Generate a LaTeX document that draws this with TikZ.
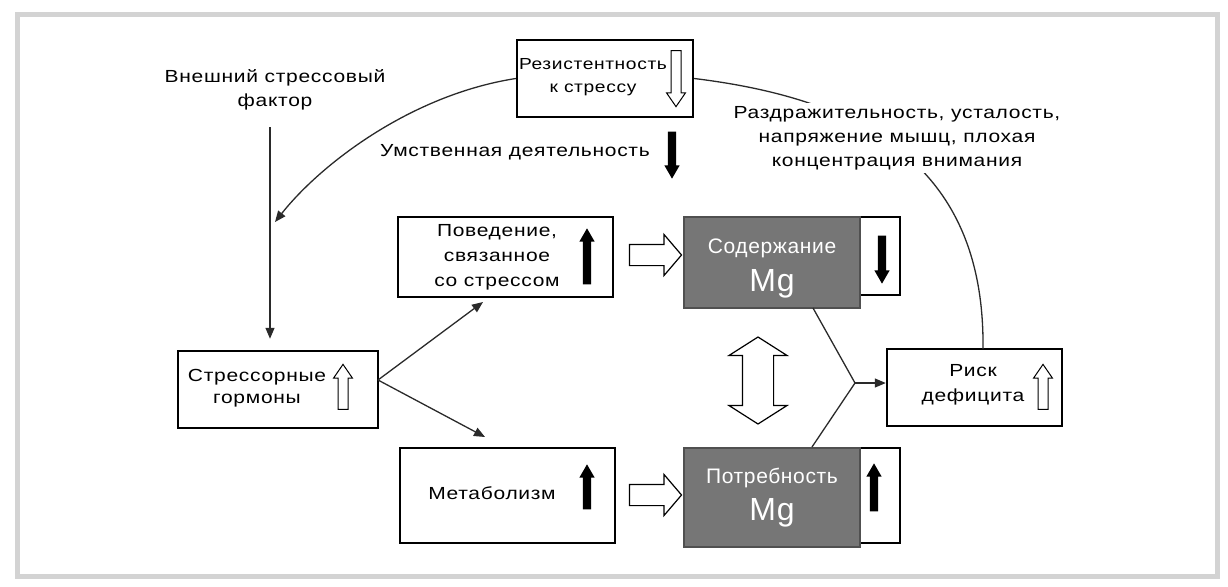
\documentclass[tikz,border=0pt]{standalone}
\usepackage{fontspec}
\setmainfont{Liberation Sans}[FakeStretch=1.2,LetterSpace=4]
\newfontfamily\mgfont{Liberation Sans}[LetterSpace=3]
\usetikzlibrary{shapes.arrows,arrows.meta}
\definecolor{mggray}{HTML}{767676}
\definecolor{mgborder}{HTML}{505050}
\definecolor{framegray}{HTML}{D3D3D3}
\definecolor{linkgray}{HTML}{2A2A2A}
\tikzset{
 box/.style={draw=black, line width=2.4pt, fill=white, inner sep=0pt},
 thinbox/.style={draw=black, line width=1.8pt, fill=white, inner sep=0pt},
 mgbox/.style={draw=mgborder, line width=1.5pt, fill=mggray, inner sep=0pt},
 txt/.style={align=center, inner sep=1pt, font=\fontsize{17.5}{24}\selectfont},
 mgtxt/.style={text=white, inner sep=0pt, font=\mgfont\fontsize{21}{24}\selectfont},
 mgbig/.style={text=white, inner sep=0pt, font=\mgfont\fontsize{32}{34}\selectfont},
 solidarrow/.style={single arrow, fill=black, draw=none, inner sep=4pt, outer sep=0pt,
   single arrow head extend=3.5pt, single arrow tip angle=60, minimum width=15pt},
 hollowup/.style={single arrow, draw=black, fill=white, line width=1pt, inner sep=4.5pt, outer sep=0pt,
   single arrow head extend=4.5pt, single arrow tip angle=69, minimum width=18pt},
 hollowright/.style={single arrow, draw=black, fill=white, line width=1.2pt, inner sep=10pt, outer sep=0pt,
   single arrow head extend=10pt, single arrow tip angle=99, minimum width=40pt, minimum height=52pt},
 link/.style={draw=linkgray, line width=1.3pt},
 tipped/.style={-{Triangle[length=11pt,width=9pt]}},
}
\begin{document}
\begin{tikzpicture}[x=1pt,y=-1pt]
\useasboundingbox (0,0) rectangle (1228,586);
\draw[framegray, line width=5pt] (17.5,14.5) rectangle (1217.5,576.5);

% boxes
\node[box, minimum width=176pt, minimum height=77pt] (res) at (605,78.5) {};
\node[box, minimum width=215pt, minimum height=80pt] (beh) at (505.5,257) {};
\node[box, minimum width=200pt, minimum height=77pt] (stress) at (278,389.5) {};
\node[box, minimum width=215pt, minimum height=95pt] (met) at (507.5,495.5) {};
\node[box, minimum width=175pt, minimum height=77pt] (risk) at (974.5,387.5) {};
\node[thinbox, minimum width=216pt, minimum height=78pt] (contw) at (792,256) {};
\node[mgbox, minimum width=176pt, minimum height=91pt] (contg) at (772,262.5) {};
\node[thinbox, minimum width=216pt, minimum height=95pt] (needw) at (792,495.5) {};
\node[mgbox, minimum width=176pt, minimum height=99pt] (needg) at (772,497.5) {};

% box texts
\node[txt, font=\fontsize{16}{23}\selectfont] (restxt) at (593,77) {Резистентность\\к стрессу};
\node[txt, font=\fontsize{17.5}{25}\selectfont] (behtxt) at (497,257) {Поведение,\\связанное\\со стрессом};
\node[txt, font=\fontsize{17.5}{22}\selectfont] (stresstxt) at (257,388) {Стрессорные\\гормоны};
\node[txt] (mettxt) at (492,493) {Метаболизм};
\node[txt, font=\fontsize{17.5}{25}\selectfont] (risktxt) at (973,385) {Риск\\дефицита};
\node[mgtxt] (conttxt) at (772,248) {Содержание};
\node[mgbig] (contmg) at (772,284) {Mg};
\node[mgtxt] (needtxt) at (772,478) {Потребность};
\node[mgbig] (needmg) at (772,513) {Mg};

% small arrows inside boxes
\node[hollowup, minimum height=56pt, shape border rotate=270] (resdown) at (676,75) {};
\node[solidarrow, minimum height=56pt, shape border rotate=90] (behup) at (587,260) {};
\node[solidarrow, minimum height=47pt, shape border rotate=270] (mentdown) at (672,151.5) {};
\node[solidarrow, minimum height=48pt, shape border rotate=270] (contdown) at (882,256) {};
\node[solidarrow, minimum height=48pt, shape border rotate=90] (needup) at (874,491) {};
\node[solidarrow, minimum height=45pt, shape border rotate=90] (metup) at (587,490.5) {};
\node[hollowup, minimum height=45pt, shape border rotate=90] (stressup) at (343,390.5) {};
\node[hollowup, minimum height=45pt, shape border rotate=90] (riskup) at (1043,390.5) {};

% big hollow arrows
\node[hollowright] (r1) at (651,255) {};
\node[hollowright] (r2) at (651,495) {};
\node[double arrow, draw=black, fill=white, line width=1.2pt, inner sep=15pt, outer sep=0pt,
  double arrow head extend=13.5pt, double arrow tip angle=115, minimum width=57pt,
  minimum height=87pt, shape border rotate=90] (dbl) at (758,380.5) {};

% free texts
\node[txt] (ext) at (275,90) {Внешний стрессовый\\фактор};
\node[txt] (mental) at (515,152) {Умственная деятельность};

% connectors
\coordinate (vtop) at (270,127);
\coordinate (ctip) at (275,222);
\coordinate (rtop) at (983,349);
\coordinate (sfork) at (378,380);
\coordinate (t1) at (483,302);
\coordinate (t2) at (485,437);
\coordinate (f1) at (813,308);
\coordinate (f2) at (812,447);
\coordinate (fj) at (855,383);

\draw[link, tipped] (vtop) -- (vtop |- stress.north) [shorten >=11pt];
\draw[link, tipped] (res.west) .. controls (410,95) and (320,165) .. (ctip);
\draw[link] (res.east) .. controls (870,100) and (985,170) .. (rtop);
\draw[link, tipped] (sfork) -- (t1);
\draw[link, tipped] (sfork) -- (t2);
\draw[link] (f1) -- (fj) -- (f2);
\draw[link, tipped] (fj) -- (fj -| risk.west);

\node[txt, fill=white, inner sep=3pt] (irrit) at (897,138)
 {Раздражительность, усталость,\\напряжение мышц, плохая\\концентрация внимания};
\end{tikzpicture}
\end{document}
